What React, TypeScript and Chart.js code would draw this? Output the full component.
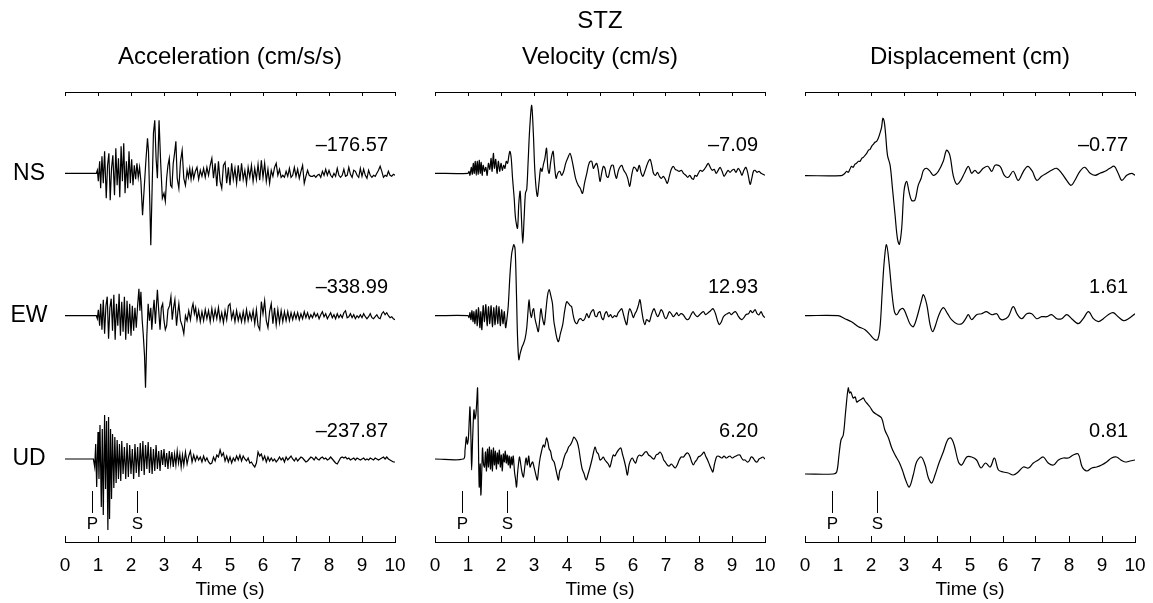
import React, { useEffect, useRef } from "react";
import { Chart, registerables } from "chart.js";

Chart.register(...registerables);

const FONT = "'Liberation Sans', Arial, Helvetica, sans-serif";

// ---------------- data ----------------
const stationName = "STZ";
const panelTitles = ["Acceleration (cm/s/s)", "Velocity (cm/s)", "Displacement (cm)"];
const components = ["NS", "EW", "UD"];
const timeMin = 0;
const timeMax = 10;
const timeStep = 1;
const phaseNames = ["P", "S"];
const phaseTimes = [0.82, 2.17];

// peak values printed beside each trace
const accPeaks = [-176.57, -338.99, -237.87];
const velPeaks = [-7.09, 12.93, 6.2];
const dispPeaks = [-0.77, 1.61, 0.81];

// traces: [time (s), relative amplitude], each trace normalised so |peak| = 72
const accNS: [number, number][] = [
  [0, 0], [0.95, 0], [0.98, 3], [1.01, -8], [1.05, 12], [1.08, -15], [1.12, 17], [1.16, -10], [1.2, 22], [1.25, -25],
  [1.29, 8], [1.33, 20], [1.37, -27], [1.41, 5], [1.45, 18], [1.5, -22], [1.54, 25], [1.58, -12], [1.62, 15], [1.66, -24],
  [1.7, 27], [1.74, -8], [1.78, 30], [1.82, -20], [1.86, 12], [1.9, -15], [1.94, 22], [1.98, -10], [2.02, 14], [2.06, -12],
  [2.1, 8], [2.14, -6], [2.18, 10], [2.22, -4], [2.26, 6], [2.3, -8], [2.35, -42], [2.4, -15], [2.45, 12], [2.5, 35],
  [2.53, 22], [2.57, -30], [2.6, -72], [2.64, -15], [2.68, 40], [2.72, 53], [2.76, 15], [2.8, -5], [2.85, 53], [2.9, 10],
  [2.95, -25], [3.0, -20], [3.04, -28], [3.08, -5], [3.12, 8], [3.16, 15], [3.2, -12], [3.24, -14], [3.28, 10], [3.32, 20],
  [3.36, 32], [3.4, -5], [3.45, -15], [3.5, 12], [3.55, 23], [3.6, -5], [3.65, -12], [3.7, 3], [3.74, -4], [3.78, 5],
  [3.82, -6], [3.86, 4], [3.9, -5], [3.95, 2], [4.0, 6], [4.05, -6], [4.1, 3], [4.15, -3], [4.2, 5], [4.25, -4],
  [4.3, 6], [4.35, -2], [4.4, 8], [4.45, 15], [4.5, -5], [4.55, 10], [4.6, -13], [4.65, 12], [4.7, -8], [4.75, -15],
  [4.8, 8], [4.85, 11], [4.9, -10], [4.95, 6], [5.0, -12], [5.05, 10], [5.1, -6], [5.15, 5], [5.2, -10], [5.25, 8],
  [5.3, -8], [5.35, 10], [5.4, -6], [5.45, 3], [5.5, -10], [5.55, 6], [5.6, -4], [5.65, 8], [5.7, -8], [5.75, 5],
  [5.8, -6], [5.85, 9], [5.9, -7], [5.95, 13], [6.0, -4], [6.05, 10], [6.1, -8], [6.15, 4], [6.2, -10], [6.25, 3],
  [6.3, -3], [6.35, 6], [6.4, 10], [6.45, -2], [6.5, 4], [6.55, -4], [6.6, -2], [6.65, -4], [6.7, 2], [6.75, -3],
  [6.8, 5], [6.85, -4], [6.9, -2], [6.95, 6], [7.0, -3], [7.05, 4], [7.1, -5], [7.15, 2], [7.2, 8], [7.25, -10],
  [7.3, -3], [7.35, 3], [7.4, -2], [7.45, -3], [7.5, -3], [7.55, -2], [7.6, -4], [7.65, -2], [7.7, -1], [7.75, -4],
  [7.8, 2], [7.85, -2], [7.9, 4], [7.95, -2], [8.0, 3], [8.05, -2], [8.1, -4], [8.15, 0], [8.2, -3], [8.25, 5],
  [8.3, -2], [8.35, -4], [8.4, -2], [8.45, 4], [8.5, -3], [8.55, -2], [8.6, 6], [8.65, -1], [8.7, -4], [8.75, 3],
  [8.8, 2], [8.85, -2], [8.9, -4], [8.95, 5], [9.0, -3], [9.05, 4], [9.1, -2], [9.15, -5], [9.2, 3], [9.25, -2],
  [9.3, -4], [9.35, -2], [9.4, -3], [9.45, 0], [9.5, 3], [9.55, 7], [9.6, 2], [9.65, -4], [9.7, -2], [9.75, -3],
  [9.8, 2], [9.85, -2], [9.9, -3], [9.95, -1], [10, -2],
];

const accEW: [number, number][] = [
  [0, 0], [0.95, 0], [0.98, -3], [1.01, 6], [1.05, -10], [1.08, 12], [1.12, -14], [1.16, 16], [1.2, -18], [1.24, 10],
  [1.28, 19], [1.32, -23], [1.36, 8], [1.4, 17], [1.44, -15], [1.48, 21], [1.52, -24], [1.56, 12], [1.6, -10], [1.64, 22],
  [1.68, -20], [1.72, 14], [1.76, -16], [1.8, 19], [1.84, -24], [1.88, 15], [1.92, -18], [1.96, 12], [2.0, -20], [2.04, 10],
  [2.08, -15], [2.12, 8], [2.16, -12], [2.2, 10], [2.24, 27], [2.27, 5], [2.3, 24], [2.34, -5], [2.37, -18], [2.41, -40],
  [2.44, -72], [2.48, -20], [2.52, 12], [2.56, -5], [2.6, 8], [2.63, -14], [2.67, 5], [2.7, 16], [2.74, -8], [2.77, 10],
  [2.8, 26], [2.84, 5], [2.88, -14], [2.92, 8], [2.96, 12], [3.0, -5], [3.04, -14], [3.08, -10], [3.12, 6], [3.17, 10],
  [3.21, 19], [3.25, -4], [3.29, 8], [3.33, 16], [3.38, -10], [3.42, 4], [3.45, 12], [3.5, -5], [3.55, -10], [3.6, -18],
  [3.65, 0], [3.7, -5], [3.75, 5], [3.8, -4], [3.85, 8], [3.88, 12], [3.92, 2], [3.96, 8], [4.0, -4], [4.05, 5],
  [4.1, -6], [4.15, 4], [4.2, -5], [4.25, 6], [4.3, -3], [4.35, 5], [4.4, -6], [4.45, 7], [4.5, -4], [4.55, 6],
  [4.6, -3], [4.65, 8], [4.7, -5], [4.75, 3], [4.8, -7], [4.85, 5], [4.9, -4], [4.95, 10], [5.0, 12], [5.05, -3],
  [5.1, 4], [5.15, -6], [5.2, 5], [5.25, -5], [5.3, 2], [5.35, -6], [5.4, 4], [5.45, -6], [5.5, 6], [5.55, -5],
  [5.6, 3], [5.65, -4], [5.7, 5], [5.75, -8], [5.8, 6], [5.85, -10], [5.9, -14], [5.95, 14], [6.0, 2], [6.05, 15],
  [6.1, -5], [6.15, -12], [6.2, 4], [6.25, 12], [6.3, -8], [6.35, 8], [6.4, -9], [6.45, 6], [6.5, -7], [6.55, 5],
  [6.6, -6], [6.65, 4], [6.7, -5], [6.75, 4], [6.8, -5], [6.85, 3], [6.9, -4], [6.95, 3], [7.0, -3], [7.05, 3],
  [7.1, -4], [7.15, 2], [7.2, -3], [7.25, 4], [7.3, -2], [7.35, 3], [7.4, -3], [7.45, 1], [7.5, -2], [7.55, 3],
  [7.6, -1], [7.65, 2], [7.7, -3], [7.75, 1], [7.8, 4], [7.85, -1], [7.9, 2], [7.95, -3], [8.0, 0], [8.05, 3],
  [8.1, -2], [8.15, 1], [8.2, -3], [8.25, 2], [8.3, -2], [8.35, 1], [8.4, -2], [8.45, 3], [8.5, 5], [8.55, -2],
  [8.6, -1], [8.65, 2], [8.7, -2], [8.75, 1], [8.8, -3], [8.85, 0], [8.9, -2], [8.95, 1], [9.0, -2], [9.05, 2],
  [9.1, -1], [9.15, -3], [9.2, -1], [9.25, 2], [9.3, -2], [9.35, -3], [9.4, -1], [9.45, 1], [9.5, -2], [9.55, -3],
  [9.6, 2], [9.65, 4], [9.7, 1], [9.75, 3], [9.8, 0], [9.85, -2], [9.9, -1], [9.95, -3], [10, -4],
];

const accUD: [number, number][] = [
  [0, 0], [0.86, 0], [0.9, -8], [0.93, 15], [0.96, -28], [1.0, 27], [1.03, -20], [1.06, 34], [1.1, -48], [1.13, 30],
  [1.16, -56], [1.2, 44], [1.23, -30], [1.26, 38], [1.3, -71], [1.32, 42], [1.35, -60], [1.38, 30], [1.41, -40], [1.44, 25],
  [1.48, -29], [1.51, 22], [1.55, -24], [1.58, 19], [1.62, -20], [1.65, 15], [1.69, -22], [1.72, 18], [1.76, -15], [1.8, 12],
  [1.84, -20], [1.88, 16], [1.92, -18], [1.96, 14], [2.0, -15], [2.04, 10], [2.08, -20], [2.12, 15], [2.16, -14], [2.2, 12],
  [2.24, -18], [2.28, 16], [2.32, -12], [2.36, 18], [2.4, -16], [2.44, 14], [2.48, -10], [2.52, 17], [2.56, -14], [2.6, 12],
  [2.64, -15], [2.68, 10], [2.72, -12], [2.76, 14], [2.8, -10], [2.84, 8], [2.88, -12], [2.92, 9], [2.96, -6], [3.0, 10],
  [3.04, -8], [3.08, 6], [3.12, -10], [3.16, 8], [3.2, -5], [3.24, 7], [3.28, -8], [3.32, 5], [3.36, -6], [3.4, 8],
  [3.44, -4], [3.48, 5], [3.52, -8], [3.56, 4], [3.6, -6], [3.65, 7], [3.7, -5], [3.75, 3], [3.8, 8], [3.85, -3],
  [3.9, 4], [3.95, -2], [4.0, 3], [4.05, -1], [4.1, 2], [4.15, -3], [4.2, 3], [4.25, -2], [4.3, 1], [4.35, -3],
  [4.4, -5], [4.45, -4], [4.5, 2], [4.55, -2], [4.6, 4], [4.65, 2], [4.7, 9], [4.75, 3], [4.8, 6], [4.85, -2],
  [4.9, 3], [4.95, -3], [5.0, 2], [5.05, -4], [5.1, 1], [5.15, -2], [5.2, 3], [5.25, -1], [5.3, 4], [5.35, -2],
  [5.4, 3], [5.45, 0], [5.5, -2], [5.55, 1], [5.6, -4], [5.65, -3], [5.7, -6], [5.75, -8], [5.8, -4], [5.85, 7],
  [5.9, 3], [5.95, 5], [6.0, -1], [6.05, 3], [6.1, -3], [6.15, 2], [6.2, -2], [6.25, 1], [6.3, -2], [6.35, 0],
  [6.4, -3], [6.45, -1], [6.5, 2], [6.55, -1], [6.6, 1], [6.65, -3], [6.7, 2], [6.75, -1], [6.8, 1], [6.85, 3],
  [6.9, 0], [6.95, -2], [7.0, 1], [7.05, -2], [7.1, 0], [7.15, 2], [7.2, 1], [7.25, -1], [7.3, -3], [7.35, -2],
  [7.4, 0], [7.45, 2], [7.5, 1], [7.55, -1], [7.6, 2], [7.65, 0], [7.7, -1], [7.75, 1], [7.8, 2], [7.85, 0],
  [7.9, 1], [7.95, -1], [8.0, 0], [8.05, 2], [8.1, 0], [8.15, -2], [8.2, -4], [8.25, -5], [8.3, -2], [8.35, 1],
  [8.4, 2], [8.45, 1], [8.5, 2], [8.55, 0], [8.6, 1], [8.65, -1], [8.7, 0], [8.75, 1], [8.8, -1], [8.85, 1],
  [8.9, 0], [8.95, -1], [9.0, 0], [9.05, 1], [9.1, -1], [9.15, 0], [9.2, -1], [9.25, 1], [9.3, 0], [9.35, -1],
  [9.4, 1], [9.45, 0], [9.5, -1], [9.55, 0], [9.6, 1], [9.65, 2], [9.7, 0], [9.75, 2], [9.8, 0], [9.85, -1],
  [9.9, -2], [9.95, -3], [10, -3],
];

const velNS: [number, number][] = [
  [0, 0], [1.0, 0], [1.03, 2], [1.06, -2], [1.1, 6], [1.13, -1], [1.16, 10], [1.19, 0], [1.22, 12], [1.25, -2],
  [1.28, 12], [1.31, -1], [1.34, 13], [1.37, 0], [1.4, 11], [1.43, -2], [1.46, 8], [1.5, 2], [1.54, 6], [1.58, -2],
  [1.62, 10], [1.66, 4], [1.7, 15], [1.73, 2], [1.77, 20], [1.8, 5], [1.84, 14], [1.88, 0], [1.92, 12], [1.96, 2],
  [2.0, 10], [2.04, 3], [2.08, 8], [2.12, 5], [2.16, 12], [2.2, 10], [2.24, 18], [2.27, 22], [2.31, 15], [2.35, -5],
  [2.4, -25], [2.44, -45], [2.5, -55], [2.54, -30], [2.58, -18], [2.62, -45], [2.66, -70], [2.7, -45], [2.74, -20], [2.78, -16],
  [2.82, 10], [2.87, 45], [2.93, 68], [2.98, 40], [3.03, 0], [3.1, -23], [3.15, -10], [3.2, 5], [3.24, 2], [3.28, 8],
  [3.33, 15], [3.38, 25], [3.42, 5], [3.46, 0], [3.5, 10], [3.54, 18], [3.58, 22], [3.62, 8], [3.67, -5], [3.72, 0],
  [3.78, 2], [3.84, -2], [3.9, 2], [3.96, 10], [4.02, 15], [4.09, 20], [4.14, 15], [4.2, 5], [4.26, -5], [4.34, -12],
  [4.4, -15], [4.47, -20], [4.53, -10], [4.6, 0], [4.65, 8], [4.7, 12], [4.75, 12], [4.8, 5], [4.85, 8], [4.9, 10],
  [4.95, 3], [5.0, -8], [5.05, 0], [5.1, 7], [5.15, 5], [5.2, -3], [5.25, -4], [5.3, 3], [5.35, 8], [5.4, 8],
  [5.45, 0], [5.5, -5], [5.55, 2], [5.6, 6], [5.66, 8], [5.72, 3], [5.78, 0], [5.84, -5], [5.9, -13], [5.96, -2],
  [6.02, 6], [6.08, 5], [6.13, 2], [6.19, 8], [6.25, 0], [6.3, -3], [6.36, 2], [6.42, 8], [6.47, 12], [6.52, 14],
  [6.57, 8], [6.62, 0], [6.68, -2], [6.74, 1], [6.8, -3], [6.86, -5], [6.92, -3], [6.98, -6], [7.04, -10], [7.1, -3],
  [7.16, 4], [7.22, 7], [7.28, 4], [7.34, 3], [7.4, 2], [7.47, 3], [7.53, 0], [7.6, -2], [7.66, -4], [7.72, -2],
  [7.78, -5], [7.83, -6], [7.88, -2], [7.93, -3], [7.98, 0], [8.04, 3], [8.1, 2], [8.16, 4], [8.22, 7], [8.28, 10],
  [8.34, 6], [8.4, 3], [8.46, 4], [8.52, 0], [8.58, 3], [8.64, 6], [8.7, 2], [8.76, -3], [8.82, 0], [8.88, 3],
  [8.94, 1], [9.0, 3], [9.06, 4], [9.12, 1], [9.19, 5], [9.25, 2], [9.3, -2], [9.36, 3], [9.42, 6], [9.48, 0],
  [9.55, -11], [9.6, -5], [9.65, 2], [9.7, 3], [9.76, 1], [9.82, 2], [9.88, 0], [9.94, -1], [10, -2],
];

const velEW: [number, number][] = [
  [0, 0], [1.0, 0], [1.03, -2], [1.06, 3], [1.09, -4], [1.12, 5], [1.15, -6], [1.18, 4], [1.21, -8], [1.25, 6],
  [1.28, -10], [1.32, 8], [1.36, -12], [1.39, 4], [1.42, -14], [1.46, 10], [1.5, -6], [1.54, 11], [1.58, -10], [1.62, 9],
  [1.66, -8], [1.7, 10], [1.74, -11], [1.78, 8], [1.82, -9], [1.86, 10], [1.9, -8], [1.94, 9], [1.98, -10], [2.02, 6],
  [2.06, -8], [2.1, 4], [2.14, -12], [2.18, -3], [2.22, 10], [2.27, 40], [2.32, 61], [2.36, 68], [2.39, 71], [2.43, 65],
  [2.47, 20], [2.5, -20], [2.54, -44], [2.58, -38], [2.63, -32], [2.68, -28], [2.73, -23], [2.78, -12], [2.82, 5], [2.85, 16],
  [2.88, 5], [2.92, -2], [2.96, 5], [2.99, 7], [3.03, -3], [3.08, -10], [3.13, -16], [3.17, -5], [3.21, 7], [3.26, -3],
  [3.31, -9], [3.36, 5], [3.41, 20], [3.46, 26], [3.51, 20], [3.56, 12], [3.6, -5], [3.64, -13], [3.69, -22], [3.74, -26],
  [3.8, -18], [3.87, -9], [3.93, 5], [3.99, 14], [4.05, 12], [4.1, 10], [4.14, 9], [4.19, 0], [4.24, -6], [4.3, -8],
  [4.36, -4], [4.42, -3], [4.48, -5], [4.54, -3], [4.6, 2], [4.66, -2], [4.72, 3], [4.8, 6], [4.85, 0], [4.9, -1],
  [4.95, 3], [5.0, 4], [5.05, -2], [5.1, -4], [5.15, 2], [5.2, 4], [5.26, -1], [5.32, 1], [5.38, -2], [5.44, 0],
  [5.5, -1], [5.55, 3], [5.6, 5], [5.66, 7], [5.72, 0], [5.77, -6], [5.81, -9], [5.86, 2], [5.9, 7], [5.96, 3],
  [6.01, -2], [6.06, 2], [6.11, 5], [6.16, 10], [6.21, 16], [6.26, 6], [6.31, -4], [6.36, -9], [6.41, -4], [6.46, -5],
  [6.5, -6], [6.55, 0], [6.6, 5], [6.64, 7], [6.7, 2], [6.75, -1], [6.8, 2], [6.85, 6], [6.9, 4], [6.95, -1],
  [7.0, -3], [7.05, 0], [7.1, 4], [7.16, 2], [7.22, -1], [7.28, 1], [7.33, 3], [7.38, 0], [7.45, 2], [7.52, 1],
  [7.58, -2], [7.64, -4], [7.7, -3], [7.76, 1], [7.82, 4], [7.88, 1], [7.95, -1], [8.02, 1], [8.08, 3], [8.14, 4],
  [8.2, 1], [8.28, 3], [8.35, 5], [8.43, 7], [8.5, 2], [8.56, -5], [8.62, -9], [8.68, -6], [8.74, -1], [8.8, 1],
  [8.86, 2], [8.92, 3], [8.98, 1], [9.04, 3], [9.1, 4], [9.15, 2], [9.2, -1], [9.25, -3], [9.3, -4], [9.36, -2],
  [9.42, 1], [9.5, 2], [9.56, 5], [9.62, 3], [9.7, 6], [9.76, 2], [9.82, 1], [9.88, 4], [9.94, 0], [10, -2],
];

const velUD: [number, number][] = [
  [0, 0], [0.86, 0], [0.91, 9], [0.95, 22], [0.98, 15], [1.01, 20], [1.04, 40], [1.06, 52], [1.09, 20], [1.11, -11],
  [1.14, 20], [1.18, 49], [1.21, 40], [1.24, 45], [1.27, 60], [1.29, 71], [1.31, 30], [1.34, -28], [1.37, -5], [1.39, -36],
  [1.42, -10], [1.44, 11], [1.47, -5], [1.5, -8], [1.53, 7], [1.56, -12], [1.59, 10], [1.62, -8], [1.65, 12], [1.68, -10],
  [1.71, 9], [1.74, -12], [1.77, 11], [1.8, -6], [1.83, 8], [1.86, -10], [1.89, 6], [1.92, -5], [1.95, 9], [1.98, -8],
  [2.01, 4], [2.04, -12], [2.07, 5], [2.1, -3], [2.13, 8], [2.16, -4], [2.19, 4], [2.22, -6], [2.25, 3], [2.28, -9],
  [2.31, 2], [2.34, -6], [2.37, 3], [2.41, -13], [2.44, -20], [2.47, -28], [2.5, -15], [2.53, -5], [2.56, 2], [2.58, -1],
  [2.61, -8], [2.64, -14], [2.68, -18], [2.72, -8], [2.76, 1], [2.8, -6], [2.84, 3], [2.88, -8], [2.92, -5], [2.96, -3],
  [3.0, -8], [3.05, -15], [3.1, -21], [3.14, -10], [3.18, 0], [3.23, 8], [3.28, 14], [3.32, 12], [3.38, 21], [3.42, 17],
  [3.46, 10], [3.5, 8], [3.55, 0], [3.61, -3], [3.66, -10], [3.7, -16], [3.74, -21], [3.78, -12], [3.84, -8], [3.9, 0],
  [3.95, 5], [3.99, 7], [4.05, 12], [4.1, 14], [4.16, 18], [4.21, 22], [4.26, 20], [4.31, 17], [4.36, 10], [4.41, -1],
  [4.46, -10], [4.51, -14], [4.58, -21], [4.64, -15], [4.7, -8], [4.76, 0], [4.8, 6], [4.85, 12], [4.9, 7], [4.95, 5],
  [5.0, -1], [5.05, 0], [5.1, 2], [5.15, -1], [5.2, -3], [5.25, -5], [5.3, -8], [5.35, -2], [5.4, 4], [5.45, 3],
  [5.5, 6], [5.56, 9], [5.63, 11], [5.68, 5], [5.73, -1], [5.78, -8], [5.83, -16], [5.88, -6], [5.93, -1], [5.98, 1],
  [6.03, -2], [6.08, -4], [6.14, 2], [6.2, 4], [6.26, 3], [6.32, 5], [6.37, 7], [6.42, 7], [6.47, 4], [6.52, 3],
  [6.58, 1], [6.64, 0], [6.7, 4], [6.76, 5], [6.82, 7], [6.88, 4], [6.93, -1], [6.98, -3], [7.04, -6], [7.1, -7],
  [7.16, -5], [7.22, -7], [7.28, -9], [7.34, -6], [7.4, -1], [7.46, 2], [7.53, 2], [7.6, 5], [7.66, 6], [7.72, 3],
  [7.78, -3], [7.83, -6], [7.88, -3], [7.93, -1], [7.98, 2], [8.04, 3], [8.1, 5], [8.15, 7], [8.2, 3], [8.26, -1],
  [8.32, -6], [8.37, -10], [8.42, -13], [8.47, -5], [8.53, 2], [8.58, 3], [8.64, 2], [8.7, 1], [8.76, 3], [8.82, 1],
  [8.88, 2], [8.94, 3], [9.0, 1], [9.06, 2], [9.12, 3], [9.18, 4], [9.24, 4], [9.29, 1], [9.34, -1], [9.4, -1],
  [9.46, -3], [9.52, -2], [9.58, 2], [9.64, 1], [9.7, -2], [9.76, -3], [9.82, 0], [9.88, 1], [9.94, 2], [10, 0],
];

const dispNS: [number, number][] = [
  [0, -2.3], [1.1, -2.3], [1.21, 0], [1.26, 2], [1.31, 1], [1.36, 4], [1.41, 7], [1.46, 6], [1.51, 9], [1.56, 10],
  [1.62, 12], [1.67, 12], [1.72, 15], [1.77, 16], [1.82, 18], [1.87, 20], [1.92, 23], [1.97, 24], [2.02, 27], [2.07, 29],
  [2.12, 31], [2.17, 32], [2.22, 35], [2.27, 40], [2.32, 46], [2.36, 55], [2.4, 52], [2.44, 40], [2.5, 18], [2.58, 8],
  [2.65, -15], [2.73, -42], [2.8, -65], [2.86, -71], [2.93, -55], [3.0, -18], [3.08, -8], [3.15, -18], [3.23, -27], [3.33, -27],
  [3.43, -12], [3.52, -5], [3.59, 3], [3.69, 5], [3.79, 2], [3.89, -2], [4.04, 2], [4.19, 12], [4.29, 23], [4.39, 18],
  [4.49, -2], [4.6, -11], [4.72, -7], [4.83, 0], [4.95, 7], [5.05, 0], [5.15, 3], [5.25, 0], [5.4, 5], [5.54, 7],
  [5.66, 2], [5.76, 8], [5.91, 7], [6.04, -2], [6.16, -4], [6.31, 2], [6.46, -7], [6.62, 2], [6.75, 7], [6.89, 2],
  [7.02, -7], [7.17, -3], [7.32, 0], [7.47, 3], [7.63, 5], [7.78, 0], [7.93, -7], [8.06, -12], [8.18, -7], [8.33, 2],
  [8.48, 6], [8.64, 0], [8.79, -2], [8.94, 0], [9.09, 2], [9.24, 5], [9.37, 7], [9.49, 0], [9.6, -7], [9.75, -2],
  [9.9, 0], [10, -2],
];

const dispEW: [number, number][] = [
  [0, 0], [1.0, 0], [1.21, -3], [1.41, -6], [1.62, -11], [1.82, -14], [1.97, -19], [2.12, -24], [2.2, -24], [2.27, -13],
  [2.34, 24], [2.4, 54], [2.47, 71], [2.55, 52], [2.63, 24], [2.71, 4], [2.78, 1], [2.88, 6], [2.98, 7], [3.08, 0],
  [3.18, -8], [3.28, -11], [3.38, -3], [3.52, 14], [3.59, 21], [3.69, 11], [3.79, -9], [3.87, -16], [3.96, -9], [4.06, 1],
  [4.19, 8], [4.32, 2], [4.44, -4], [4.6, -8], [4.75, -8], [4.87, -3], [4.95, 1], [5.05, -4], [5.2, 1], [5.35, 2],
  [5.5, 4], [5.66, 1], [5.81, 2], [5.91, -3], [6.01, -4], [6.16, -1], [6.31, 9], [6.44, 1], [6.57, -3], [6.72, 2],
  [6.87, 2], [7.02, -3], [7.17, -1], [7.32, -1], [7.47, 1], [7.63, -3], [7.78, -3], [7.93, 1], [8.08, -3], [8.28, -8],
  [8.43, -3], [8.59, 4], [8.74, -3], [8.89, -6], [9.04, -3], [9.19, 1], [9.34, 3], [9.49, -1], [9.65, -5], [9.8, -3],
  [10, 2],
];

const dispUD: [number, number][] = [
  [0, -15], [0.86, -15], [0.96, -13], [1.03, 4], [1.09, 19], [1.16, 24], [1.23, 47], [1.31, 71], [1.35, 66], [1.39, 67],
  [1.46, 61], [1.52, 62], [1.57, 57], [1.62, 58], [1.67, 59], [1.72, 60], [1.77, 61], [1.82, 58], [1.87, 56], [1.97, 52],
  [2.07, 47], [2.2, 44], [2.32, 41], [2.42, 29], [2.53, 21], [2.63, 11], [2.73, 4], [2.85, -3], [2.95, -11], [3.05, -21],
  [3.16, -28], [3.28, -16], [3.38, -3], [3.52, 2], [3.64, -6], [3.74, -19], [3.84, -24], [3.94, -16], [4.06, -4], [4.19, 7],
  [4.32, 19], [4.42, 21], [4.52, 14], [4.65, -3], [4.75, -6], [4.9, 2], [5.05, 2], [5.2, -1], [5.33, -9], [5.47, -4],
  [5.61, -8], [5.74, 1], [5.86, -11], [6.01, -13], [6.16, -14], [6.31, -16], [6.46, -13], [6.62, -8], [6.77, -9], [6.92, -4],
  [7.07, -1], [7.22, 2], [7.37, -4], [7.53, -6], [7.68, -1], [7.83, 1], [7.98, 1], [8.13, 4], [8.28, 5], [8.4, -8],
  [8.54, -12], [8.69, -9], [8.84, -8], [8.99, -6], [9.14, -3], [9.29, 1], [9.44, 2], [9.57, -1], [9.7, -3], [9.85, -2],
  [10, -1],
];

const panelTraces = [
  [accNS, accEW, accUD],
  [velNS, velEW, velUD],
  [dispNS, dispEW, dispUD],
];
const panelPeaks = [accPeaks, velPeaks, dispPeaks];

// ---------------- layout / style ----------------
const H = 603;
const CANVAS_LEFT = [0, 415, 785];
const CANVAS_W = [415, 370, 368];
const PAD_L = [65, 20, 20];
const PAD_R = [20, 20, 18];
const Y_RANGE = 450; // plot height in px -> 1 unit per px
const BASELINES = [368.7, 226.3, 83]; // trace baselines (y units)
const TENSION = [0, 0.3, 0.35]; // line smoothing per panel

const fmtPeak = (v: number) => (v < 0 ? "\u2013" : "") + Math.abs(v).toFixed(2);

function makeConfig(p: number): any {
  const traces = panelTraces[p];
  const annotate = {
    id: "annotate" + p,
    afterDraw(chart: any) {
      const { ctx, chartArea, scales } = chart;
      const x = scales.x;
      const y = scales.y;
      ctx.save();
      ctx.fillStyle = "#000";
      ctx.strokeStyle = "#000";
      ctx.lineWidth = 1;
      // peak values
      ctx.font = `20px ${FONT}`;
      ctx.textAlign = "right";
      ctx.textBaseline = "middle";
      panelPeaks[p].forEach((v, k) => {
        const yb = y.getPixelForValue(BASELINES[k]);
        ctx.fillText(fmtPeak(v), chartArea.right - 7, yb - 28);
      });
      // component names
      if (p === 0) {
        ctx.font = `23px ${FONT}`;
        ctx.textAlign = "center";
        components.forEach((c, k) => {
          const yb = y.getPixelForValue(BASELINES[k]);
          ctx.fillText(c, 29, yb);
        });
      }
      // station name
      if (p === 1) {
        ctx.font = `24px ${FONT}`;
        ctx.textAlign = "center";
        ctx.fillText(stationName, (chartArea.left + chartArea.right) / 2, 21);
      }
      // phase picks under the UD trace
      const ybUD = y.getPixelForValue(BASELINES[2]);
      ctx.font = `17px ${FONT}`;
      ctx.textAlign = "center";
      phaseTimes.forEach((t, k) => {
        const px = Math.round(x.getPixelForValue(t)) + 0.5;
        ctx.beginPath();
        ctx.moveTo(px, ybUD + 32);
        ctx.lineTo(px, ybUD + 54);
        ctx.stroke();
        ctx.fillText(phaseNames[k], px, ybUD + 65);
      });
      ctx.restore();
    },
  };

  return {
    type: "line",
    data: {
      datasets: traces.map((tr, k) => ({
        label: components[k],
        data: tr.map(([t, v]) => ({ x: t, y: BASELINES[k] + v })),
        borderColor: "#000",
        borderWidth: 1.2,
        pointRadius: 0,
        tension: TENSION[p],
        fill: false,
      })),
    },
    options: {
      animation: false,
      responsive: false,
      maintainAspectRatio: false,
      parsing: false,
      events: [],
      layout: { padding: { left: PAD_L[p], right: PAD_R[p], top: 0, bottom: 0 } },
      plugins: {
        legend: { display: false },
        tooltip: { enabled: false },
        title: {
          display: true,
          text: panelTitles[p],
          color: "#000",
          font: { family: FONT, size: 24, weight: "normal", lineHeight: 1.2 },
          padding: { top: 43, bottom: 20.2 },
        },
      },
      scales: {
        x: {
          type: "linear",
          position: "bottom",
          min: timeMin,
          max: timeMax,
          ticks: {
            stepSize: timeStep,
            autoSkip: false,
            maxRotation: 0,
            color: "#000",
            padding: 18,
            font: { family: FONT, size: 19, lineHeight: 1.2 },
          },
          grid: {
            display: true,
            drawOnChartArea: false,
            drawTicks: true,
            tickLength: -6,
            color: "#000",
            lineWidth: 1,
          },
          border: { display: true, color: "#000", width: 1 },
          title: {
            display: true,
            text: "Time (s)",
            color: "#000",
            font: { family: FONT, size: 19, lineHeight: 1.2 },
            padding: { top: 0, bottom: 1.6 },
          },
          afterFit: (s: any) => {
            s.height = 61;
            s.paddingLeft = 0;
            s.paddingRight = 0;
          },
        },
        xTop: {
          type: "linear",
          axis: "x",
          position: "top",
          min: timeMin,
          max: timeMax,
          ticks: { display: false, stepSize: timeStep, autoSkip: false },
          grid: {
            display: true,
            drawOnChartArea: false,
            drawTicks: true,
            tickLength: -4,
            color: "#000",
            lineWidth: 1,
          },
          border: { display: true, color: "#000", width: 1 },
          afterFit: (s: any) => {
            s.height = 0;
            s.paddingLeft = 0;
            s.paddingRight = 0;
          },
        },
        y: { type: "linear", display: false, min: 0, max: Y_RANGE },
      },
    },
    plugins: [annotate],
  };
}

export default function App() {
  const r0 = useRef<HTMLCanvasElement>(null);
  const r1 = useRef<HTMLCanvasElement>(null);
  const r2 = useRef<HTMLCanvasElement>(null);
  const refs = [r0, r1, r2];

  useEffect(() => {
    document.body.style.margin = "0";
    const charts = refs.map((r, i) => new Chart(r.current as HTMLCanvasElement, makeConfig(i)));
    return () => charts.forEach((c) => c.destroy());
  }, []);

  return (
    <div style={{ position: "relative", width: 1153, height: H, background: "#fff", overflow: "hidden" }}>
      {refs.map((r, i) => (
        <canvas
          key={i}
          ref={r}
          width={CANVAS_W[i]}
          height={H}
          style={{ position: "absolute", left: CANVAS_LEFT[i], top: 0, width: CANVAS_W[i], height: H }}
        />
      ))}
    </div>
  );
}
